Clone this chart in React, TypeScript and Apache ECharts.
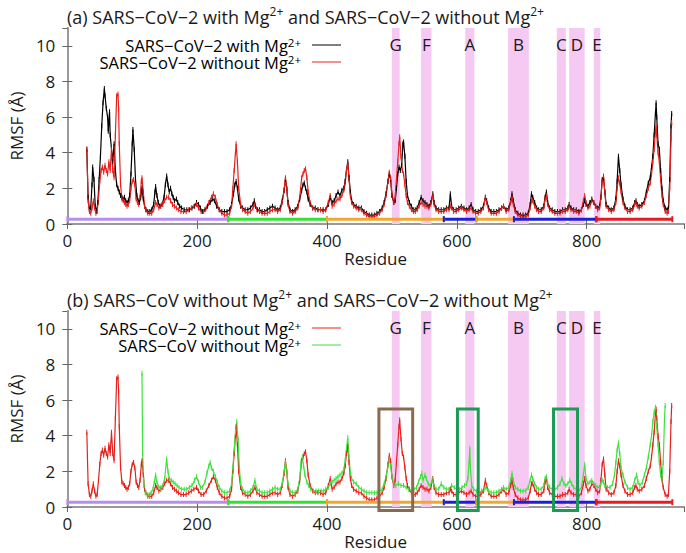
import { useEffect, useRef } from 'react';
import * as echarts from 'echarts';

const FONT = 'Open Sans';

// Shaded regions (residue ranges)
const regionNames = ['G', 'F', 'A', 'B', 'C', 'D', 'E'];
const regionStarts = [500, 545, 613, 679, 754, 773, 811];
const regionEnds = [512, 561, 627, 711, 768, 797, 821];

// Domain bars along the bottom
const domainStarts = [0, 248, 400, 580, 630, 688, 815];
const domainEnds = [248, 400, 580, 630, 688, 815, 932];
const domainColors = ['#b98cf0', '#35e035', '#f2a72e', '#1e1ed6', '#f2a72e', '#1e1ed6', '#e51c23'];
const domainLevel = 0.27;

// Highlight boxes in panel (b)
const boxStarts = [480, 601, 749];
const boxEnds = [532, 633, 786];
const boxTops = [5.5, 5.5, 5.5];
const boxBottoms = [-0.2, -0.2, -0.2];
const boxColors = ['#8b6b4f', '#1d9a55', '#1d9a55'];

// SARS-CoV-2 with Mg2+
const withMg: number[][] = [
  [30,4.2],[32,1.5],[34,0.8],[36,0.9],[38,2.2],[39,3.2],[41,2.5],[43,1.0],[45,0.7],[47,1.2],[49,2.5],[51,3.8],[53,5.5],[55,6.8],[57,7.6],[58,7.2],[60,6.5],[62,6.0],[63,5.2],[65,6.3],[66,5.0],[68,4.2],[70,3.5],[72,4.5],[74,3.0],[76,2.2],[78,2.0],[80,1.8],[82,1.6],[84,1.5],[86,1.4],[88,1.5],[90,1.3],[92,1.2],[94,1.3],[96,1.6],[98,2.8],[100,4.5],[101,5.3],[103,4.2],[105,2.5],[107,1.6],[109,1.3],[111,1.2],[113,1.5],[115,2.0],[117,1.4],[119,1.0],[121,0.8],[124,0.7],[127,0.7],[130,0.8],[133,1.1],[135,1.8],[136,2.1],[138,1.6],[140,1.2],[143,1.0],[146,1.1],[149,1.5],[151,2.2],[153,2.7],[155,2.2],[157,1.8],[159,2.0],[161,1.7],[163,1.5],[165,1.3],[168,1.4],[170,1.2],[173,1.0],[176,0.9],[180,0.8],[184,0.8],[188,0.8],[192,0.9],[196,1.0],[199,1.2],[202,1.1],[205,0.9],[208,0.7],[212,0.8],[216,1.0],[220,1.2],[224,1.4],[227,1.3],[230,1.0],[234,0.8],[238,0.7],[242,0.7],[246,0.7],[250,0.8],[253,1.1],[256,1.7],[258,2.2],[260,2.4],[262,2.0],[264,1.4],[267,1.0],[270,0.9],[274,0.8],[278,0.8],[282,0.9],[286,1.1],[288,1.3],[290,1.0],[293,0.8],[296,0.8],[300,0.7],[304,0.7],[308,0.8],[312,0.9],[316,1.0],[320,0.9],[324,0.8],[328,0.9],[331,1.3],[334,1.9],[336,2.5],[338,2.0],[340,1.2],[343,0.8],[347,0.7],[351,0.8],[355,1.0],[358,1.4],[361,1.9],[363,2.2],[365,2.3],[367,2.0],[369,1.8],[371,1.4],[374,1.1],[378,0.9],[382,0.9],[386,0.8],[390,0.8],[394,0.8],[398,0.8],[402,1.1],[405,1.5],[408,1.2],[411,1.3],[414,1.6],[417,1.8],[420,1.6],[423,1.9],[426,2.0],[428,2.4],[430,3.0],[432,3.5],[434,2.6],[436,1.8],[438,1.3],[441,1.1],[445,1.0],[449,0.9],[453,0.9],[457,0.7],[461,0.6],[465,0.5],[469,0.5],[473,0.5],[477,0.6],[481,0.7],[485,0.9],[488,1.2],[491,1.7],[494,2.4],[496,2.8],[498,2.5],[500,1.6],[503,1.2],[505,1.3],[507,2.0],[509,2.8],[511,3.2],[513,3.0],[515,3.3],[517,4.5],[518,4.6],[520,3.8],[522,2.4],[524,1.6],[527,1.2],[530,1.0],[533,0.8],[536,0.8],[539,0.9],[542,1.2],[545,1.5],[548,1.3],[551,1.2],[554,1.1],[557,1.0],[560,1.2],[563,1.7],[565,1.2],[568,0.9],[572,0.8],[576,0.8],[580,0.8],[584,0.9],[588,0.9],[590,1.7],[592,1.0],[595,0.8],[599,0.8],[603,0.9],[607,1.0],[611,0.9],[615,0.8],[619,0.9],[622,1.1],[625,0.8],[629,0.7],[633,0.7],[637,0.8],[641,1.0],[644,1.5],[646,1.3],[649,0.9],[653,0.7],[657,0.7],[661,0.7],[665,0.8],[669,0.9],[672,1.0],[676,0.8],[680,0.9],[683,1.3],[685,1.7],[687,1.3],[690,0.8],[694,0.6],[698,0.5],[702,0.5],[706,0.5],[710,0.6],[713,1.1],[715,1.7],[717,1.5],[720,1.2],[723,0.9],[726,0.8],[730,0.8],[734,1.0],[736,1.5],[738,1.8],[740,1.2],[743,0.9],[747,0.8],[751,0.7],[755,0.7],[759,0.7],[763,0.8],[767,0.8],[771,0.9],[773,1.1],[776,0.9],[780,0.8],[784,0.8],[788,0.7],[792,0.8],[795,1.1],[797,1.3],[799,1.1],[802,1.0],[805,1.2],[808,1.4],[811,1.2],[814,1.0],[817,0.9],[820,1.0],[822,1.5],[824,2.5],[826,2.6],[828,1.8],[830,1.1],[834,0.9],[838,0.8],[842,0.9],[845,1.4],[847,2.4],[849,3.8],[851,3.0],[853,2.2],[856,1.4],[859,1.0],[863,0.8],[867,0.8],[871,0.9],[874,1.2],[876,1.3],[878,1.1],[881,1.0],[885,1.1],[889,1.3],[892,1.8],[895,2.3],[898,2.6],[900,3.2],[902,3.8],[904,5.0],[906,6.2],[907,6.8],[908,6.0],[910,4.5],[912,4.2],[914,3.0],[916,2.0],[918,1.3],[921,0.9],[924,0.8],[926,0.9],[928,2.5],[930,5.5],[931,6.2]
];

// SARS-CoV-2 without Mg2+
const withoutMg: number[][] = [
  [30,4.2],[32,1.3],[34,0.7],[36,0.6],[38,0.9],[40,1.3],[42,0.9],[44,0.6],[46,0.7],[48,1.5],[50,2.4],[52,3.0],[54,3.2],[56,2.9],[58,3.3],[60,3.0],[62,2.8],[64,3.5],[66,3.0],[68,4.2],[70,3.0],[72,2.6],[74,5.0],[76,7.2],[78,7.3],[79,6.5],[80,4.5],[82,2.2],[84,1.4],[86,1.3],[88,1.2],[90,1.1],[92,1.0],[94,1.1],[96,1.3],[98,2.0],[100,2.4],[102,2.5],[104,2.2],[106,1.4],[108,1.2],[110,1.1],[112,1.5],[114,2.4],[115,2.6],[117,1.8],[119,1.0],[121,0.8],[124,0.6],[127,0.6],[130,0.6],[133,0.8],[136,1.2],[138,1.1],[141,0.9],[144,1.0],[147,1.1],[150,1.3],[153,1.5],[156,1.5],[159,1.3],[162,1.1],[165,1.0],[168,0.9],[171,0.8],[175,0.7],[179,0.7],[183,0.7],[187,0.8],[191,0.9],[195,1.0],[199,1.1],[202,0.9],[206,0.7],[210,0.7],[214,0.9],[218,1.2],[222,1.5],[225,1.7],[228,1.5],[231,1.1],[234,0.8],[238,0.6],[242,0.5],[246,0.5],[250,0.6],[253,1.0],[255,2.0],[257,3.0],[259,4.0],[260,4.5],[262,3.5],[264,2.0],[267,1.1],[270,0.8],[274,0.7],[278,0.6],[282,0.7],[286,0.9],[289,1.1],[292,0.8],[296,0.7],[300,0.6],[304,0.6],[308,0.6],[312,0.7],[316,0.8],[320,0.8],[324,0.7],[328,0.8],[331,1.2],[334,1.9],[336,2.6],[338,2.0],[340,1.1],[343,0.7],[347,0.6],[351,0.7],[355,0.9],[358,1.5],[361,2.6],[363,2.8],[365,3.0],[367,3.1],[369,2.6],[371,1.8],[374,1.2],[378,0.9],[382,0.8],[386,0.8],[390,0.8],[394,0.7],[398,0.8],[402,1.2],[405,1.6],[408,1.0],[411,1.1],[414,1.3],[417,1.4],[420,1.4],[423,1.6],[426,1.9],[428,2.3],[430,3.0],[432,3.4],[434,2.5],[436,1.6],[438,1.2],[441,1.0],[445,0.9],[449,0.8],[453,0.8],[457,0.6],[461,0.5],[465,0.4],[469,0.4],[473,0.4],[477,0.5],[481,0.6],[485,0.8],[488,1.1],[491,1.6],[494,2.4],[496,2.9],[498,2.6],[500,1.7],[503,1.2],[505,1.5],[507,2.5],[509,3.5],[511,4.5],[512,4.9],[514,3.8],[516,3.0],[518,2.8],[520,2.2],[522,1.6],[524,1.2],[527,1.0],[530,0.8],[533,0.7],[536,0.7],[539,0.8],[542,1.0],[545,1.2],[548,1.1],[551,1.0],[554,1.0],[557,0.9],[560,1.1],[563,1.6],[565,1.1],[568,0.8],[572,0.7],[576,0.7],[580,0.7],[584,0.8],[588,0.8],[590,1.0],[592,0.9],[595,0.7],[599,0.7],[603,0.8],[607,0.9],[611,0.8],[615,0.7],[619,0.8],[622,0.9],[625,0.7],[629,0.6],[633,0.6],[637,0.7],[641,0.9],[644,1.5],[646,1.2],[649,0.8],[653,0.6],[657,0.6],[661,0.6],[665,0.7],[669,0.9],[672,1.0],[676,0.7],[680,0.8],[683,1.2],[685,1.5],[687,1.1],[690,0.7],[694,0.5],[698,0.4],[702,0.4],[706,0.4],[710,0.5],[713,0.9],[715,1.3],[717,1.3],[720,1.0],[723,0.8],[726,0.7],[730,0.7],[734,0.9],[736,1.4],[738,1.6],[740,1.1],[743,0.8],[747,0.7],[751,0.6],[755,0.6],[759,0.6],[763,0.7],[767,0.7],[771,0.8],[773,1.0],[776,0.8],[780,0.7],[784,0.7],[788,0.6],[792,0.8],[795,1.3],[797,1.6],[799,1.2],[802,0.9],[805,1.0],[808,1.3],[811,1.2],[814,1.0],[817,0.8],[820,0.9],[822,1.5],[824,2.4],[826,2.7],[828,1.8],[830,1.0],[834,0.8],[838,0.7],[842,0.8],[845,1.2],[847,2.0],[849,2.6],[851,2.3],[853,1.8],[856,1.2],[859,0.9],[863,0.7],[867,0.7],[871,0.8],[874,1.1],[876,1.2],[878,1.0],[881,0.9],[885,1.0],[889,1.2],[892,1.6],[895,2.0],[898,2.3],[900,2.8],[902,3.5],[904,4.2],[906,5.2],[907,5.5],[908,5.0],[910,4.0],[912,3.5],[914,2.5],[916,1.6],[918,1.1],[921,0.7],[924,0.6],[926,0.7],[928,2.0],[930,4.8],[931,5.7]
];

// SARS-CoV without Mg2+
const sarsCov: number[][] = [
  [115,7.5],[116,3.0],[118,1.2],[120,0.8],[123,0.7],[126,0.7],[129,0.8],[132,1.0],[134,1.4],[136,1.8],[138,1.4],[141,1.1],[144,1.1],[147,1.2],[150,1.6],[153,2.7],[155,2.0],[157,1.6],[160,1.5],[163,1.4],[166,1.3],[169,1.2],[172,1.1],[176,1.0],[180,1.0],[184,1.0],[188,1.1],[192,1.2],[196,1.5],[199,1.7],[202,1.4],[205,1.1],[208,1.1],[212,1.4],[215,1.9],[218,2.3],[220,2.5],[222,2.2],[225,2.0],[228,1.7],[231,1.4],[234,1.1],[238,0.9],[242,0.8],[246,0.8],[250,0.9],[253,1.3],[255,2.2],[257,3.2],[259,4.2],[261,4.8],[263,3.8],[265,2.2],[267,1.3],[270,1.0],[274,0.8],[278,0.8],[282,0.9],[286,1.1],[289,1.5],[292,1.0],[296,0.9],[300,0.8],[304,0.8],[308,0.8],[312,0.9],[316,1.0],[320,1.1],[324,1.0],[328,1.0],[331,1.3],[334,2.0],[336,2.5],[338,2.0],[340,1.3],[343,0.9],[347,0.8],[351,0.8],[355,1.0],[358,1.6],[360,2.5],[362,2.8],[364,2.3],[366,1.8],[369,1.4],[372,1.2],[375,1.0],[379,0.9],[383,0.9],[387,0.9],[391,0.9],[395,0.9],[398,1.0],[402,1.1],[405,1.3],[408,1.4],[411,1.5],[414,1.6],[417,1.7],[420,1.8],[423,1.9],[426,2.1],[428,2.6],[430,3.3],[432,3.9],[434,2.8],[436,1.9],[438,1.6],[441,1.4],[445,1.3],[449,1.1],[453,1.0],[457,0.9],[461,0.8],[465,0.8],[469,0.8],[473,0.8],[477,0.8],[481,0.9],[485,1.0],[488,1.3],[491,1.7],[494,2.3],[496,2.7],[498,2.3],[500,1.7],[503,1.3],[506,1.2],[510,1.3],[514,1.2],[518,1.2],[522,1.1],[526,1.0],[530,0.9],[534,1.0],[538,1.1],[541,1.4],[544,1.7],[546,1.9],[548,1.5],[551,1.8],[553,1.6],[556,1.3],[559,1.2],[562,1.5],[565,1.2],[568,1.0],[572,1.0],[576,1.3],[580,1.1],[584,1.0],[588,1.0],[592,1.2],[596,1.1],[600,1.0],[604,1.0],[608,1.1],[612,1.2],[615,1.3],[617,1.6],[619,2.5],[620,3.3],[621,2.2],[623,1.2],[626,1.0],[630,0.9],[634,0.8],[638,0.9],[642,1.0],[645,1.1],[649,0.9],[653,0.8],[657,0.8],[661,0.8],[665,0.9],[669,1.0],[672,1.1],[676,1.0],[680,1.1],[683,1.5],[685,1.9],[687,1.5],[690,1.1],[694,1.0],[698,0.9],[702,0.9],[706,0.9],[710,1.1],[713,1.5],[715,1.8],[717,1.6],[720,1.3],[723,1.1],[726,1.0],[730,1.0],[734,1.2],[736,1.6],[738,1.7],[740,1.3],[743,1.1],[747,1.0],[751,1.0],[755,1.1],[759,1.3],[762,1.6],[765,1.3],[768,1.2],[771,1.3],[774,1.5],[777,1.3],[780,1.1],[784,1.0],[788,0.9],[792,1.1],[795,1.8],[797,2.4],[799,1.6],[802,1.3],[805,1.4],[808,1.5],[811,1.3],[814,1.2],[817,1.1],[820,1.1],[822,1.3],[824,1.5],[826,1.4],[828,1.2],[832,1.1],[836,1.1],[840,1.3],[843,1.8],[845,2.5],[847,3.2],[849,3.6],[851,3.0],[853,2.2],[856,1.8],[859,1.4],[863,1.1],[867,1.0],[871,1.1],[874,1.5],[877,1.8],[879,1.4],[882,1.2],[886,1.4],[889,1.8],[892,2.2],[895,2.8],[898,3.5],[900,4.0],[902,4.8],[904,5.3],[906,5.6],[908,4.5],[910,3.5],[912,2.5],[914,1.8],[916,1.5],[918,2.5],[920,5.0],[921,5.7]
];

const xTickMin = 0;
const xTickMax = 950;
const xTickStep = 200;
const yTickMin = 0;
const yTickMax = 11;
const yTickStep = 2;

const titleA = '(a) SARS−CoV−2 with Mg';
const titleA2 = ' and SARS−CoV−2 without Mg';
const titleB = '(b) SARS−CoV without Mg';
const titleB2 = ' and SARS−CoV−2 without Mg';
const sup = '2+';

const nameWith = 'SARS−CoV−2 with Mg';
const nameWithout = 'SARS−CoV−2 without Mg';
const nameCov = 'SARS−CoV without Mg';

const COL_BLACK = '#000000';
const COL_RED = '#e8201c';
const COL_GREEN = '#3fe23f';
const PINK = '#f6c9f3';
const AXIS_GREY = '#999999';
const TEXT = '#1a1a1a';

export default function App() {
  const ref = useRef<HTMLDivElement>(null);
  useEffect(() => {
    if (!ref.current) return;
    const chart = echarts.init(ref.current, null, { renderer: 'svg' });

    const rich = {
      n: { fontSize: 18, lineHeight: 24, fontFamily: FONT, fontWeight: 'normal', color: TEXT },
      s: { fontSize: 12, lineHeight: 12, verticalAlign: 'top', fontFamily: FONT, fontWeight: 'normal', color: TEXT },
    };
    const LEG_LH = 17;
    const legendRich = {
      n: { fontSize: 16.5, lineHeight: LEG_LH, fontFamily: FONT, fontWeight: 'normal', color: TEXT },
      s: { fontSize: 11.5, lineHeight: 6, verticalAlign: 'top', fontFamily: FONT, fontWeight: 'normal', color: TEXT },
    };

    const grids = [
      { left: 64, right: 2, top: 28, height: 196 },
      { left: 64, right: 2, top: 311, height: 196 },
    ];

    const xAxes: any[] = [];
    const yAxes: any[] = [];
    [0, 1].forEach((g) => {
      xAxes.push({
        type: 'value', gridIndex: g, position: 'bottom', min: xTickMin, max: xTickMax, interval: xTickStep,
        name: 'Residue', nameLocation: 'middle', nameGap: 26,
        nameTextStyle: { fontSize: 17, fontFamily: FONT, color: TEXT },
        axisLine: { show: true, lineStyle: { color: AXIS_GREY, width: 2 } },
        axisTick: { show: true, inside: true, length: 5, lineStyle: { color: '#666', width: 1 } },
        axisLabel: { fontSize: 17, fontFamily: FONT, color: TEXT, margin: 8, showMaxLabel: false },
        splitLine: { show: false },
      });
      xAxes.push({
        type: 'value', gridIndex: g, position: 'top', min: xTickMin, max: xTickMax, interval: xTickStep,
        axisLine: { show: true, lineStyle: { color: AXIS_GREY, width: 2 } },
        axisTick: { show: true, inside: true, length: 5, lineStyle: { color: '#666', width: 1 } },
        axisLabel: { show: false },
        splitLine: { show: false },
      });
      yAxes.push({
        type: 'value', gridIndex: g, position: 'left', min: yTickMin, max: yTickMax, interval: yTickStep,
        name: 'RMSF (Å)', nameLocation: 'middle', nameGap: 33, nameRotate: 90,
        nameTextStyle: { fontSize: 17, fontFamily: FONT, color: TEXT },
        axisLine: { show: true, lineStyle: { color: AXIS_GREY, width: 2 } },
        axisTick: { show: true, inside: true, length: 5, lineStyle: { color: '#666', width: 1 } },
        axisLabel: { fontSize: 17, fontFamily: FONT, color: TEXT, margin: 12, showMaxLabel: false },
        splitLine: { show: false },
      });
      yAxes.push({
        type: 'value', gridIndex: g, position: 'right', min: yTickMin, max: yTickMax, interval: yTickStep,
        axisLine: { show: true, lineStyle: { color: AXIS_GREY, width: 2 } },
        axisTick: { show: true, inside: true, length: 5, lineStyle: { color: '#666', width: 1 } },
        axisLabel: { show: false },
        splitLine: { show: false },
      });
    });

    const regionArea = {
      silent: true,
      itemStyle: { color: PINK, opacity: 1 },
      label: { show: true, position: 'insideTop', distance: 8, fontSize: 17, fontFamily: FONT, color: TEXT },
      data: regionNames.map((n, i) => [{ name: n, xAxis: regionStarts[i] }, { xAxis: regionEnds[i] }]),
    };

    const rmsfSeries = (name: string, data: number[][], color: string, g: number, withArea: boolean) => ({
      type: 'line', name, data, xAxisIndex: g * 2, yAxisIndex: g * 2, z: 3,
      showSymbol: true, showAllSymbol: true, symbol: 'rect', symbolSize: [1, 5],
      itemStyle: { color }, lineStyle: { color, width: 1.2 },
      clip: true, silent: true,
      markArea: withArea ? regionArea : undefined,
    });

    const domainSeries: any[] = [];
    [0, 1].forEach((g) => {
      domainStarts.forEach((s, i) => {
        domainSeries.push({
          type: 'line', xAxisIndex: g * 2, yAxisIndex: g * 2, z: 4, silent: true,
          data: [[s, domainLevel], [domainEnds[i], domainLevel]],
          symbol: 'rect', symbolSize: [2, 6], showSymbol: true,
          itemStyle: { color: domainColors[i] }, lineStyle: { color: domainColors[i], width: 3 },
          clip: false,
        });
      });
    });

    const boxSeries = {
      type: 'custom', xAxisIndex: 2, yAxisIndex: 2, z: 6, silent: true, clip: false,
      data: boxStarts.map((s, i) => [s, boxEnds[i], boxTops[i], boxBottoms[i]]),
      encode: { x: [0, 1], y: [2, 3] },
      renderItem: (params: any, api: any) => {
        const p0 = api.coord([api.value(0), api.value(2)]);
        const p1 = api.coord([api.value(1), api.value(3)]);
        return {
          type: 'rect',
          shape: { x: p0[0], y: p0[1], width: p1[0] - p0[0], height: p1[1] - p0[1] },
          style: { fill: 'none', stroke: boxColors[params.dataIndex], lineWidth: 3 },
        };
      },
    };

    // Legend: one two-line right-aligned text block, plus line samples
    const legendBlock = (names: string[], colors: string[], yFirst: number) => [
      {
        type: 'text', x: 301, y: yFirst - LEG_LH / 2,
        style: {
          text: names.map((n) => `{n|${n}}{s|${sup}}`).join('\n'),
          rich: legendRich, align: 'right', verticalAlign: 'top',
        },
      },
      ...names.map((_, i) => ({
        type: 'line',
        shape: { x1: 312, y1: yFirst + i * LEG_LH, x2: 341, y2: yFirst + i * LEG_LH },
        style: { stroke: colors[i], lineWidth: 1 },
      })),
    ];

    chart.setOption({
      animation: false,
      backgroundColor: '#ffffff',
      title: [
        { left: 62, top: 0, text: `{n|${titleA}}{s|${sup}}{n|${titleA2}}{s|${sup}}`, textStyle: { rich, fontWeight: 'normal' } },
        { left: 62, top: 283, text: `{n|${titleB}}{s|${sup}}{n|${titleB2}}{s|${sup}}`, textStyle: { rich, fontWeight: 'normal' } },
      ],
      grid: grids,
      xAxis: xAxes,
      yAxis: yAxes,
      graphic: [
        ...legendBlock([nameWith, nameWithout], [COL_BLACK, COL_RED], 45),
        ...legendBlock([nameWithout, nameCov], [COL_RED, COL_GREEN], 328),
      ],
      series: [
        rmsfSeries(nameWith, withMg, COL_BLACK, 0, true),
        rmsfSeries(nameWithout, withoutMg, COL_RED, 0, false),
        rmsfSeries(nameWithout, withoutMg, COL_RED, 1, true),
        rmsfSeries(nameCov, sarsCov, COL_GREEN, 1, false),
        ...domainSeries,
        boxSeries,
      ],
    });
    return () => chart.dispose();
  }, []);
  return <div ref={ref} style={{ position: 'absolute', left: 0, top: 0, width: 686, height: 553 }} />;
}
